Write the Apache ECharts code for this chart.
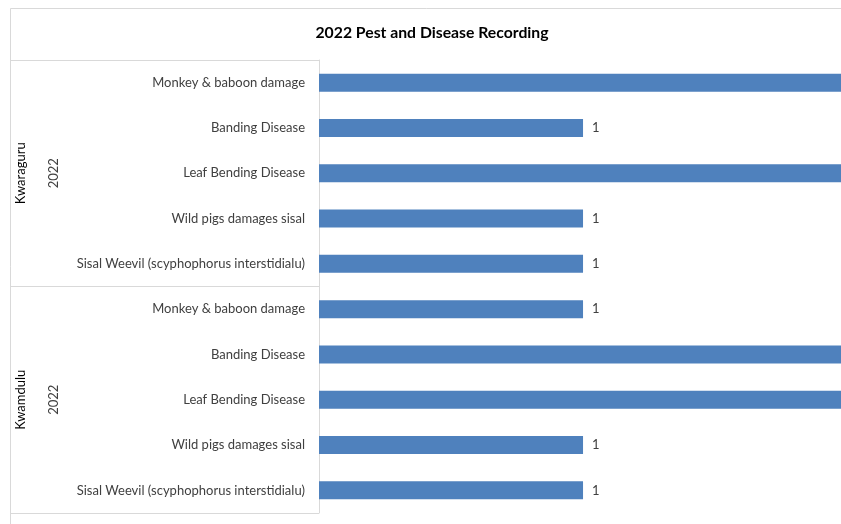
<!DOCTYPE html>
<html>
<head>
<meta charset="utf-8">
<script src="https://cdn.jsdelivr.net/npm/echarts@6/dist/echarts.min.js"></script>
<style>
html,body{margin:0;padding:0;background:#fff;}
#chart{width:841px;height:524px;}
</style>
</head>
<body>
<div id="chart"></div>
<script>
const title = '2022 Pest and Disease Recording';
const items = ['Monkey & baboon damage', 'Banding Disease', 'Leaf Bending Disease', 'Wild pigs damages sisal', 'Sisal Weevil (scyphophorus interstidialu)'];
const regions = ['Kwaraguru', 'Kwamdulu'];
const years = ['2022', '2022'];
const kwaraguruValues = [2, 1, 2, 1, 1];
const kwamduluValues = [1, 2, 2, 1, 1];

const categories = [];
regions.forEach(function (r) { items.forEach(function (it) { categories.push(r + '|' + it); }); });
const values = kwaraguruValues.concat(kwamduluValues);

// The reference is a cropped view: the visible value range ends just short of 2.
const visibleMax = 1.977;

const FONT = 'Lato';
const chart = echarts.init(document.getElementById('chart'), null, {renderer: 'canvas'});
chart.setOption({
  animation: false,
  backgroundColor: '#ffffff',
  title: {
    text: title,
    left: 427,
    top: 20,
    textAlign: 'center',
    textStyle: {fontFamily: FONT, fontSize: 15.75, fontWeight: 'bold', color: '#000000'}
  },
  graphic: [{
    type: 'rect',
    shape: {x: 10.5, y: 8.5, width: 1000, height: 1000},
    style: {fill: 'none', stroke: '#D9D9D9', lineWidth: 1},
    silent: true
  }],
  grid: {left: 319, top: 60, bottom: 11, right: 0, containLabel: false},
  xAxis: {
    type: 'value', min: 0, max: visibleMax, show: false,
    splitLine: {show: false}
  },
  yAxis: [{
    type: 'category',
    data: categories,
    inverse: true,
    axisLine: {show: true, lineStyle: {color: '#D9D9D9'}},
    axisTick: {show: false},
    axisLabel: {
      margin: 14,
      fontFamily: FONT, fontSize: 13, color: '#404040',
      formatter: function (v) { return v.split('|')[1]; }
    }
  }, {
    type: 'category',
    data: years,
    inverse: true,
    position: 'left',
    axisLine: {show: false},
    axisTick: {show: true, length: 308, interval: 0, lineStyle: {color: '#D9D9D9'}},
    axisLabel: {
      margin: 259, rotate: 90,
      fontFamily: FONT, fontSize: 13, color: '#404040'
    }
  }, {
    type: 'category',
    data: regions,
    inverse: true,
    position: 'left',
    axisLine: {show: false},
    axisTick: {show: false},
    axisLabel: {
      margin: 292, rotate: 90,
      fontFamily: FONT, fontSize: 13, color: '#000000'
    }
  }],
  series: [{
    type: 'bar',
    yAxisIndex: 0,
    data: values,
    barWidth: 18,
    clip: false,
    itemStyle: {color: '#4F81BD'},
    label: {
      show: true, position: 'right', distance: 9,
      fontFamily: FONT, fontSize: 13, color: '#404040'
    }
  }]
});
</script>
</body>
</html>
